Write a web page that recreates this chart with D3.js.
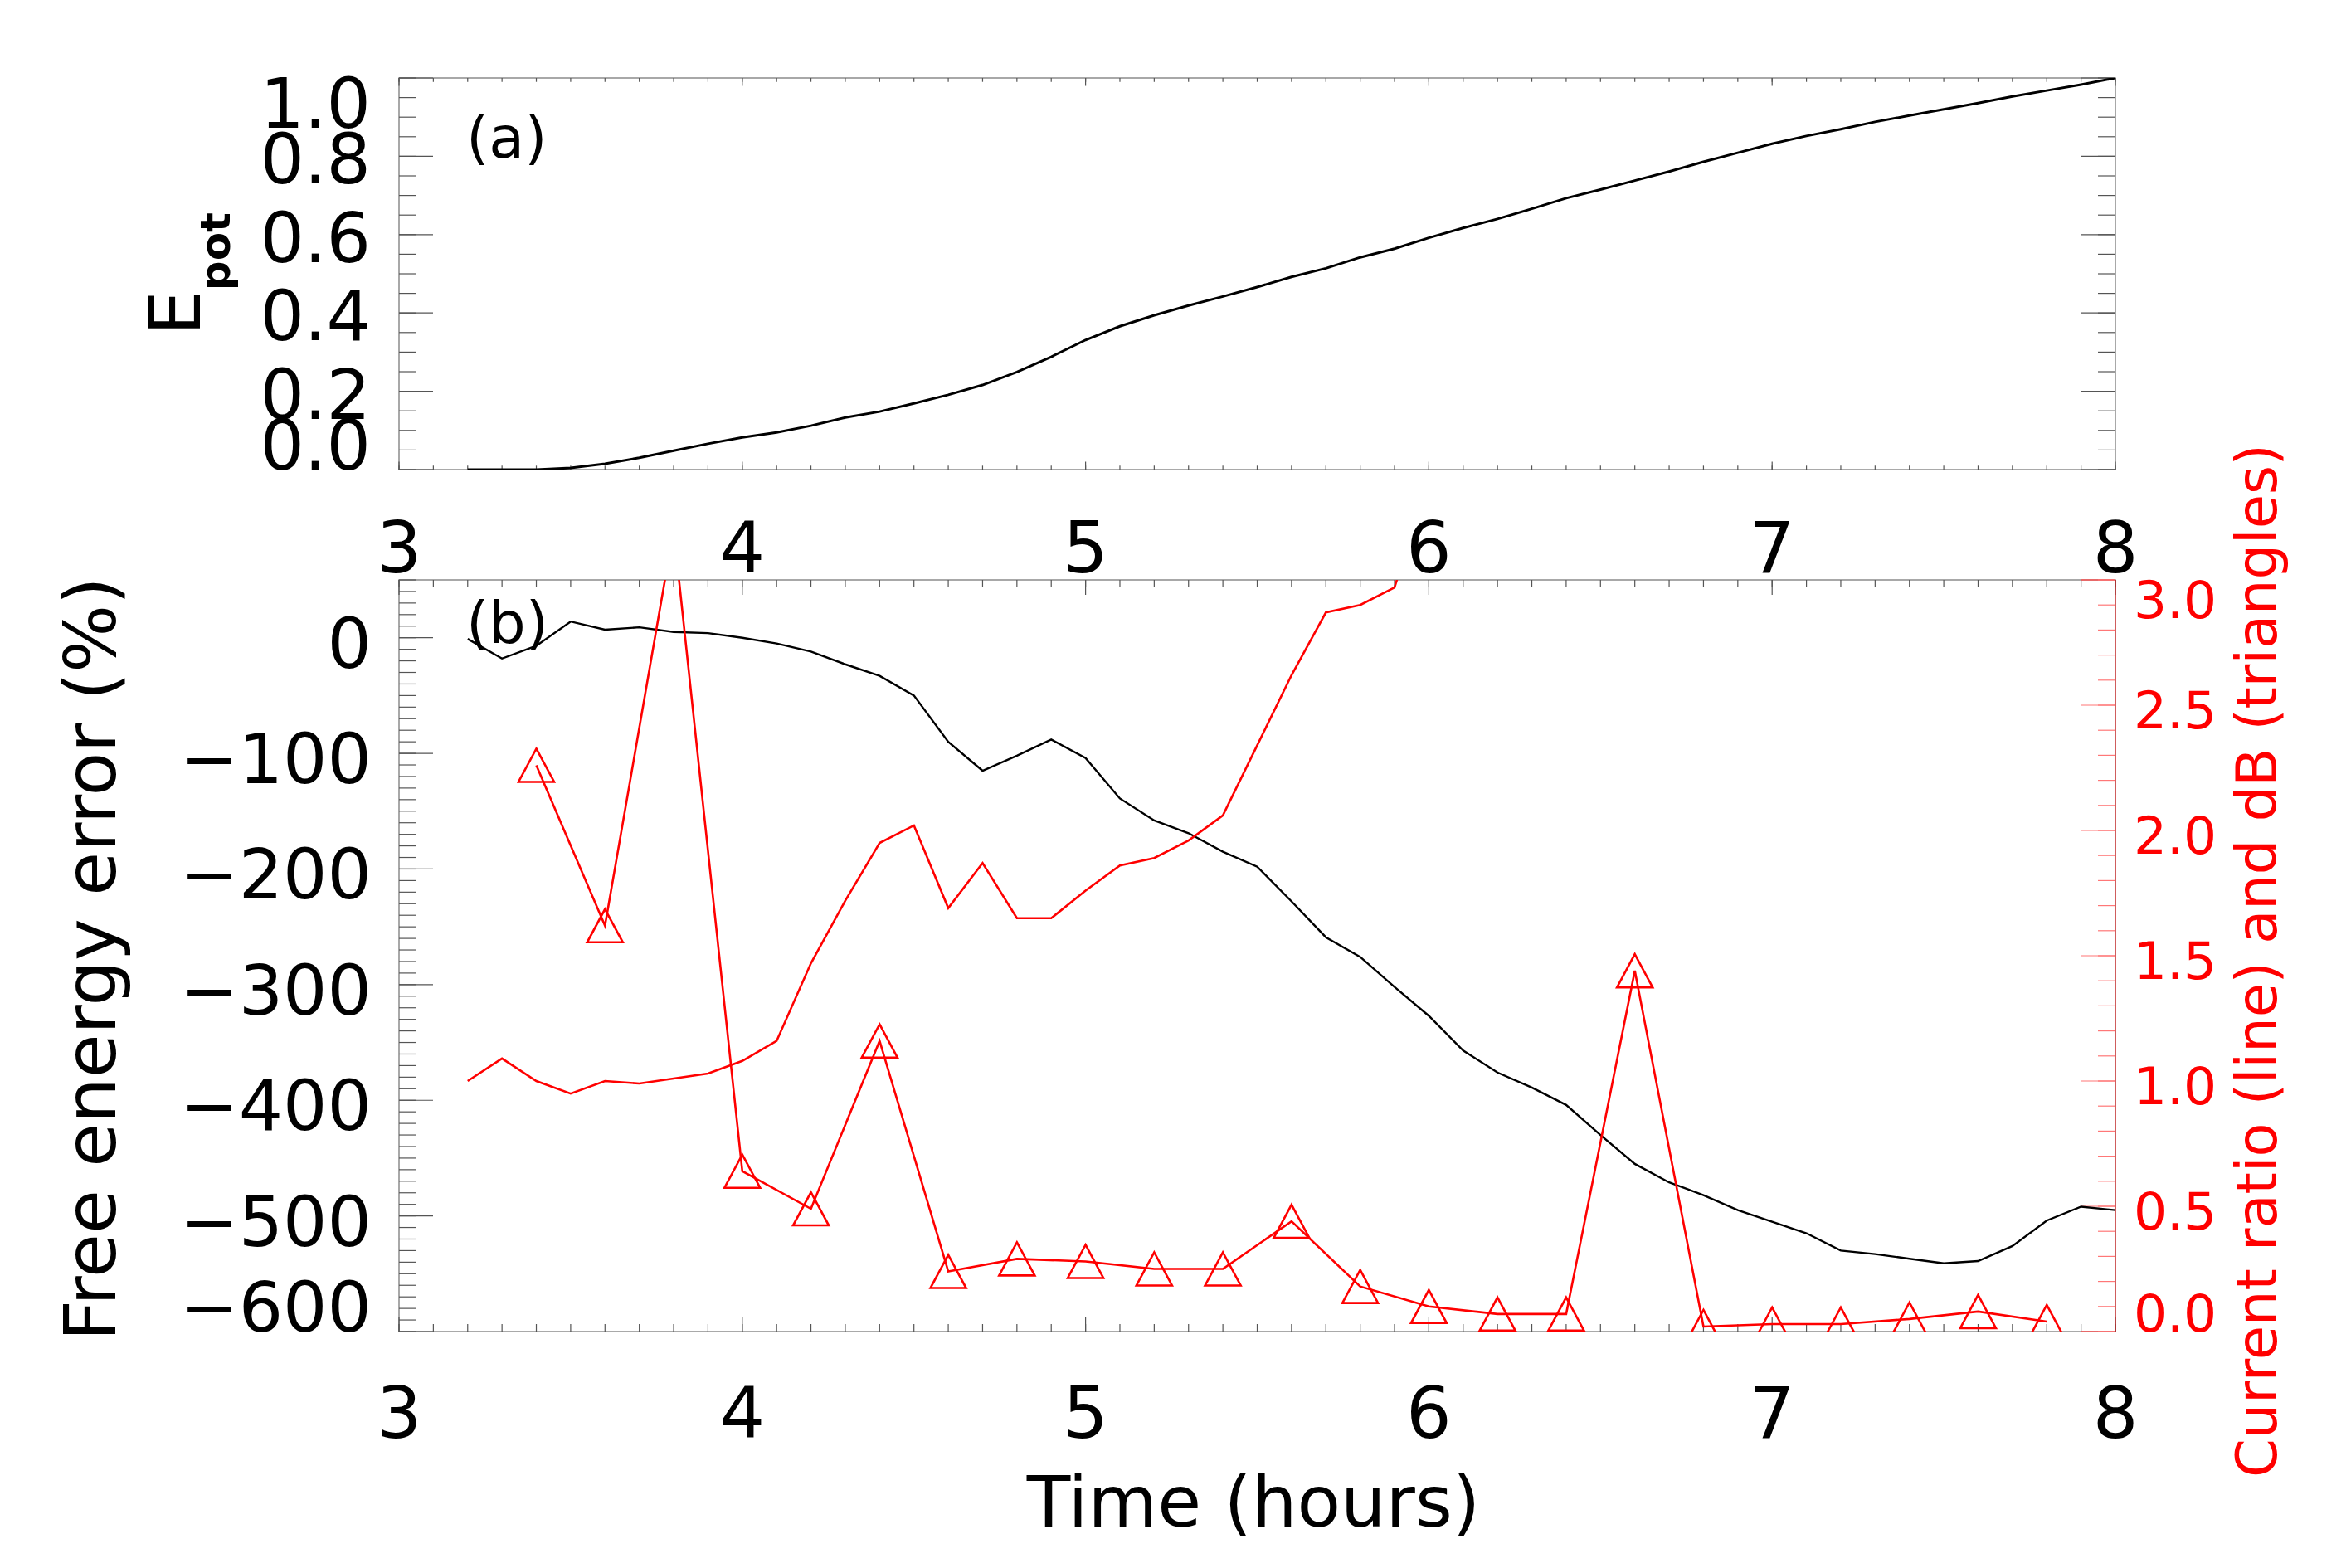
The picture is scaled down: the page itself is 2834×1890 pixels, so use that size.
<!DOCTYPE html>
<html><head><meta charset="utf-8">
<script src="https://cdn.jsdelivr.net/npm/d3@7"></script>
<style>body{margin:0;background:#fff} svg{display:block} text{font-family:"DejaVu Sans",sans-serif}</style>
</head><body>
<svg id="c" width="2834" height="1890"></svg>
<script>
// ---------------- data ----------------
const timeTop = [3.2,3.3,3.4,3.5,3.6,3.7,3.8,3.9,4.0,4.1,4.2,4.3,4.4,4.5,4.6,4.7,4.8,4.9,5.0,5.1,5.2,5.3,5.4,5.5,5.6,5.7,5.8,5.9,6.0,6.1,6.2,6.3,6.4,6.5,6.6,6.7,6.8,6.9,7.0,7.1,7.2,7.3,7.4,7.5,7.6,7.7,7.8,7.9,8.0];
const epot = [0,0,0,0.004,0.015,0.030,0.048,0.066,0.082,0.095,0.112,0.133,0.148,0.169,0.191,0.216,0.249,0.288,0.331,0.366,0.394,0.419,0.442,0.466,0.492,0.514,0.542,0.564,0.592,0.617,0.640,0.666,0.693,0.715,0.738,0.761,0.786,0.809,0.832,0.852,0.869,0.888,0.904,0.920,0.936,0.953,0.968,0.983,1.0];
const timeErr = [3.2,3.3,3.4,3.5,3.6,3.7,3.8,3.9,4.0,4.1,4.2,4.3,4.4,4.5,4.6,4.7,4.8,4.9,5.0,5.1,5.2,5.3,5.4,5.5,5.6,5.7,5.8,5.9,6.0,6.1,6.2,6.3,6.4,6.5,6.6,6.7,6.8,6.9,7.0,7.1,7.2,7.3,7.4,7.5,7.6,7.7,7.8,7.9,8.0];
const freeEnergyError = [-1,-18,-7,14,7,9,5,4,0,-5,-12,-23,-33,-50,-90,-115,-102,-88,-104,-139,-158,-169,-185,-198,-228,-259,-276,-302,-327,-357,-376,-389,-404,-430,-455,-471,-482,-495,-505,-515,-530,-533,-537,-541,-539,-526,-504,-492,-495];
const timeRatio = [3.2,3.3,3.4,3.5,3.6,3.7,3.8,3.9,4.0,4.1,4.2,4.3,4.4,4.5,4.6,4.7,4.8,4.9,5.0,5.1,5.2,5.3,5.4,5.5,5.6,5.7,5.8,5.9,6.0];
const currentRatio = [1.00,1.09,1.00,0.95,1.00,0.99,1.01,1.03,1.08,1.16,1.47,1.72,1.95,2.02,1.69,1.87,1.65,1.65,1.76,1.86,1.89,1.96,2.06,2.34,2.62,2.87,2.90,2.97,3.40];
const timeDB = [3.4,3.6,3.8,4.0,4.2,4.4,4.6,4.8,5.0,5.2,5.4,5.6,5.8,6.0,6.2,6.4,6.6,6.8,7.0,7.2,7.4,7.6,7.8];
const dB = [2.26,1.62,3.20,0.64,0.49,1.16,0.24,0.29,0.28,0.25,0.25,0.44,0.18,0.10,0.07,0.07,1.44,0.02,0.03,0.03,0.05,0.08,0.04];
const xTicks = [3,4,5,6,7,8];
const epotTicks = [0.0,0.2,0.4,0.6,0.8,1.0];
const errTicks = [0,-100,-200,-300,-400,-500,-600];
const ratioTicks = [0.0,0.5,1.0,1.5,2.0,2.5,3.0];

// ---------------- layout ----------------
const svg = d3.select("#c");
const L = 481, R = 2550;
const aTop = 94, aBot = 566, bTop = 699, bBot = 1605;
const x = d3.scaleLinear().domain([3,8]).range([L,R]);
const yA = d3.scaleLinear().domain([0,1]).range([aBot,aTop]);
const yB = d3.scaleLinear().domain([-600,50]).range([bBot,bTop]);
const yR = d3.scaleLinear().domain([0,3]).range([bBot,bTop]);

const defs = svg.append("defs");
defs.append("clipPath").attr("id","clipA").append("rect").attr("x",L).attr("y",aTop).attr("width",R-L).attr("height",aBot-aTop);
defs.append("clipPath").attr("id","clipB").append("rect").attr("x",L).attr("y",bTop).attr("width",R-L).attr("height",bBot-bTop);

const AX = "#8c8c8c", TK = "#555";
function frame(top, bot){
  svg.append("rect").attr("x",L).attr("y",top).attr("width",R-L).attr("height",bot-top)
    .attr("fill","none").attr("stroke",AX).attr("stroke-width",1.5);
}
function hTicks(vals, scale, y0, dir, len, color){
  svg.append("g").selectAll("line").data(vals).join("line")
    .attr("x1",d=>scale(d)).attr("x2",d=>scale(d)).attr("y1",y0).attr("y2",y0+dir*len)
    .attr("stroke",color).attr("stroke-width",1.2);
}
function vTicks(vals, scale, x0, dir, len, color){
  svg.append("g").selectAll("line").data(vals).join("line")
    .attr("y1",d=>scale(d)).attr("y2",d=>scale(d)).attr("x1",x0).attr("x2",x0+dir*len)
    .attr("stroke",color).attr("stroke-width",1.2);
}
const xMinor = x.ticks(50);

// ---- panel (a)
frame(aTop,aBot);
const aMinor = yA.ticks(20);
hTicks(xMinor, x, aBot, -1, 4.7, TK); hTicks(xTicks, x, aBot, -1, 9.4, TK);
hTicks(xMinor, x, aTop, 1, 4.7, TK); hTicks(xTicks, x, aTop, 1, 9.4, TK);
vTicks(aMinor, yA, L, 1, 21, TK); vTicks(epotTicks, yA, L, 1, 41, TK);
vTicks(aMinor, yA, R, -1, 21, TK); vTicks(epotTicks, yA, R, -1, 41, TK);

function baseFor(yv, h, shift, top, bot){
  let b = yv + shift + h/2;
  b = Math.min(b, bot); b = Math.max(b, top + h);
  return b;
}
svg.append("g").selectAll("text").data(epotTicks).join("text")
  .attr("x",447).attr("y",d=>baseFor(yA(d),60,3,aTop,aBot))
  .attr("text-anchor","end").attr("font-size",84).text(d3.format(".1f"));
svg.append("g").selectAll("text").data(xTicks).join("text")
  .attr("x",d=>x(d)).attr("y",aBot+124).attr("text-anchor","middle").attr("font-size",86).text(d=>d);

const epl = svg.append("text").attr("transform",`translate(241,330) rotate(-90)`).attr("text-anchor","middle");
epl.append("tspan").attr("font-size",85).text("E");
epl.append("tspan").attr("font-size",50).attr("font-weight","bold").attr("dy",36).text("pot");

svg.append("text").attr("x",562).attr("y",190).attr("font-size",70).text("(a)");

svg.append("path").datum(timeTop.map((t,i)=>[t,epot[i]]))
  .attr("clip-path","url(#clipA)")
  .attr("d", d3.line().x(d=>x(d[0])).y(d=>yA(d[1])))
  .attr("fill","none").attr("stroke","#000").attr("stroke-width",3);

// ---- panel (b)
frame(bTop,bBot);
const bMinor = yB.ticks(65);
const rMinor = yR.ticks(30);
hTicks(xMinor, x, bBot, -1, 9, TK); hTicks(xTicks, x, bBot, -1, 18, TK);
hTicks(xMinor, x, bTop, 1, 9, TK); hTicks(xTicks, x, bTop, 1, 18, TK);
vTicks(bMinor, yB, L, 1, 21, TK); vTicks(errTicks, yB, L, 1, 41, TK);
svg.append("line").attr("x1",R).attr("x2",R).attr("y1",bTop).attr("y2",bBot).attr("stroke","#f00").attr("stroke-opacity",0.6).attr("stroke-width",1.5);
svg.append("line").attr("x1",x(7.9)).attr("x2",R).attr("y1",bTop).attr("y2",bTop).attr("stroke","#f00").attr("stroke-opacity",0.6).attr("stroke-width",1.5);
svg.append("line").attr("x1",x(7.9)).attr("x2",R).attr("y1",bBot).attr("y2",bBot).attr("stroke","#f00").attr("stroke-opacity",0.6).attr("stroke-width",1.5);
vTicks(rMinor, yR, R, -1, 21, "#f77"); vTicks(ratioTicks, yR, R, -1, 41, "#f77");

svg.append("g").selectAll("text").data(errTicks).join("text")
  .attr("x",448).attr("y",d=>baseFor(yB(d),58,7,bTop,bBot))
  .attr("text-anchor","end").attr("font-size",84).text(d3.format("d"));
svg.append("g").selectAll("text").data(ratioTicks).join("text")
  .attr("x",2572).attr("y",d=>baseFor(yR(d),46,5,bTop,bBot))
  .attr("fill","#f00").attr("font-size",63).text(d3.format(".1f"));
svg.append("g").selectAll("text").data(xTicks).join("text")
  .attr("x",d=>x(d)).attr("y",bBot+128).attr("text-anchor","middle").attr("font-size",86).text(d=>d);

svg.append("text").attr("transform","translate(139,1156) rotate(-90)").attr("text-anchor","middle")
  .attr("font-size",86).text("Free energy error (%)");
svg.append("text").attr("transform","translate(2744,1158) rotate(-90)").attr("text-anchor","middle")
  .attr("font-size",67).attr("fill","#f00").text("Current ratio (line) and dB (triangles)");
svg.append("text").attr("x",1511).attr("y",1840).attr("text-anchor","middle").attr("font-size",86).text("Time (hours)");
svg.append("text").attr("x",562).attr("y",775).attr("font-size",70).text("(b)");

const gB = svg.append("g").attr("clip-path","url(#clipB)");
gB.append("path").datum(timeErr.map((t,i)=>[t,freeEnergyError[i]]))
  .attr("d", d3.line().x(d=>x(d[0])).y(d=>yB(d[1])))
  .attr("fill","none").attr("stroke","#000").attr("stroke-width",2.4);
gB.append("path").datum(timeRatio.map((t,i)=>[t,currentRatio[i]]))
  .attr("d", d3.line().x(d=>x(d[0])).y(d=>yR(d[1])))
  .attr("fill","none").attr("stroke","#f00").attr("stroke-width",2.6);
const dbPts = timeDB.map((t,i)=>[t,dB[i]]);
gB.append("path").datum(dbPts)
  .attr("d", d3.line().x(d=>x(d[0])).y(d=>yR(d[1])))
  .attr("fill","none").attr("stroke","#f00").attr("stroke-width",2.6);
gB.append("g").selectAll("path").data(dbPts).join("path")
  .attr("transform",d=>`translate(${x(d[0])},${yR(d[1])})`)
  .attr("d","M0,-20L21.5,20L-21.5,20Z")
  .attr("fill","none").attr("stroke","#f00").attr("stroke-width",2.6);
</script>
</body></html>
